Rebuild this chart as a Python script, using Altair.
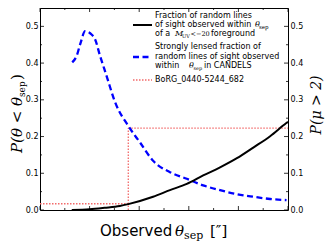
import altair as alt
import pandas as pd

# ---- data ----
blue_x = [0.65, 0.74, 0.82, 0.91, 1.04, 1.11, 1.21, 1.34, 1.51, 1.81, 2.02, 2.28, 2.62, 2.96, 3.29, 3.63, 3.97, 4.30, 4.64, 4.97]
blue_y = [0.402, 0.42, 0.456, 0.487, 0.478, 0.465, 0.42, 0.366, 0.295, 0.223, 0.183, 0.134, 0.103, 0.085, 0.067, 0.054, 0.043, 0.036, 0.030, 0.027]

black_x = [0.64, 1.0, 1.3, 1.61, 1.78, 2.28, 2.62, 2.96, 3.29, 3.63, 3.97, 4.30, 4.64, 4.96, 5.0]
black_y = [0.0, 0.002, 0.006, 0.011, 0.016, 0.036, 0.054, 0.071, 0.094, 0.116, 0.141, 0.170, 0.201, 0.236, 0.240]

theta_obj = 1.78
p_mu = 0.223
p_theta = 0.017

x_major = [0, 1, 2, 3, 4, 5]
x_minor = [0.5, 1.5, 2.5, 3.5, 4.5]
y_major = [0.0, 0.1, 0.2, 0.3, 0.4, 0.5]
y_minor = [0.05, 0.15, 0.25, 0.35, 0.45, 0.55]

W, H = 248, 202
SANS = "DejaVu Sans"
SERIF = "DejaVu Serif"

xs = alt.Scale(domain=[0, 5], nice=False, zero=False)
ys = alt.Scale(domain=[0, 0.55], nice=False)

blue_df = pd.DataFrame({"x": blue_x, "y": blue_y})
black_df = pd.DataFrame({"x": black_x, "y": black_y})
red_df = pd.DataFrame({
    "x": [0, theta_obj, theta_obj],
    "x2": [theta_obj, 5, theta_obj],
    "y": [p_theta, p_mu, 0],
    "y2": [p_theta, p_mu, p_mu],
})

x_axis = alt.Axis(values=x_major, format="d", ticks=False, domain=False, grid=False,
                  labelFont=SANS, labelFontSize=8, labelColor="black", labelPadding=3,
                  title=None, labelFlush=False)
y_axis_l = alt.Axis(values=y_major, format=".1f", ticks=False, domain=False, grid=False,
                    labelFont=SANS, labelFontSize=8, labelColor="black", labelPadding=2,
                    title=None, orient="left")
y_axis_r = alt.Axis(values=y_major, format=".1f", ticks=False, domain=False, grid=False,
                    labelFont=SANS, labelFontSize=8, labelColor="black", labelPadding=2,
                    title=None, orient="right")

red = alt.Chart(red_df).mark_rule(color="#f26a6a", strokeWidth=1.3, strokeDash=[1.5, 1.5]).encode(
    x=alt.X("x:Q", scale=xs, axis=x_axis), x2="x2:Q",
    y=alt.Y("y:Q", scale=ys, axis=y_axis_l), y2="y2:Q")

blue = alt.Chart(blue_df).mark_line(color="#0000ff", strokeWidth=2.3, strokeDash=[6, 3.5],
                                    interpolate="monotone").encode(
    x=alt.X("x:Q", scale=xs, axis=None), y=alt.Y("y:Q", scale=ys, axis=y_axis_r))

black = alt.Chart(black_df).mark_line(color="black", strokeWidth=2, interpolate="monotone").encode(
    x=alt.X("x:Q", scale=xs, axis=None), y=alt.Y("y:Q", scale=ys, axis=None))

# inward ticks
def xticks(vals, length):
    d = pd.DataFrame({"v": vals})
    b = alt.Chart(d).mark_rule(color="black", strokeWidth=0.8).encode(
        x=alt.X("v:Q", scale=xs, axis=None), y=alt.value(H), y2=alt.value(H - length))
    t = alt.Chart(d).mark_rule(color="black", strokeWidth=0.8).encode(
        x=alt.X("v:Q", scale=xs, axis=None), y=alt.value(0), y2=alt.value(length))
    return [b, t]

def yticks(vals, length):
    d = pd.DataFrame({"v": vals})
    l = alt.Chart(d).mark_rule(color="black", strokeWidth=0.8).encode(
        y=alt.Y("v:Q", scale=ys, axis=None), x=alt.value(0), x2=alt.value(length))
    r = alt.Chart(d).mark_rule(color="black", strokeWidth=0.8).encode(
        y=alt.Y("v:Q", scale=ys, axis=None), x=alt.value(W - length), x2=alt.value(W))
    return [l, r]

ticks = xticks(x_major, 4) + xticks(x_minor, 2) + yticks(y_major, 4) + yticks(y_minor, 2)

def txt(s, x, y, size, font=SANS, style="normal", align="left", baseline="alphabetic", angle=0):
    return alt.Chart(pd.DataFrame({"t": [s]})).mark_text(
        font=font, fontSize=size, fontStyle=style, align=align, baseline=baseline,
        angle=angle, color="black").encode(text="t:N", x=alt.value(x), y=alt.value(y))

titles = [
    txt("Observed", 60, 228, 15),
    txt("θ", 135, 228, 15, SERIF, "italic"),
    txt("sep", 144, 231, 11, SERIF),
    txt("[″]", 170, 228, 15, SERIF),
    # left title, rotated, read bottom to top
    txt("P(θ < θ", -18, 145, 15, SERIF, "italic", "left", "alphabetic", 270),
    txt("sep", -15, 89, 9, SERIF, "normal", "left", "alphabetic", 270),
    txt(")", -18, 72, 15, SERIF, "normal", "left", "alphabetic", 270),
    # right title
    txt("P(μ > 2)", 277, 97, 14, SERIF, "italic", "center", "middle", 270),
]

# legend
LX = 115
leg = [
    alt.Chart(pd.DataFrame({"a": [0]})).mark_rule(color="black", strokeWidth=2).encode(
        x=alt.value(93), x2=alt.value(112), y=alt.value(17)),
    alt.Chart(pd.DataFrame({"a": [0]})).mark_rule(color="#0000ff", strokeWidth=2.3, strokeDash=[6, 3.5]).encode(
        x=alt.value(93), x2=alt.value(112), y=alt.value(49)),
    alt.Chart(pd.DataFrame({"a": [0]})).mark_rule(color="#f26a6a", strokeWidth=1.3, strokeDash=[1.5, 1.5]).encode(
        x=alt.value(93), x2=alt.value(112), y=alt.value(72)),
    txt("Fraction of random lines", LX, 7.7, 8, baseline="middle"),
    txt("of sight observed within", LX, 17, 8, baseline="middle"),
    txt("θ", 215, 17, 8, SERIF, "italic", baseline="middle"),
    txt("sep", 219, 19, 5.5, SERIF, baseline="middle"),
    txt("of a", LX, 26.3, 8, baseline="middle"),
    txt("M", 135, 26.3, 8, SERIF, "italic", baseline="middle"),
    txt("UV", 142, 28.3, 5, SERIF, baseline="middle"),
    txt("<−20", 150.5, 26.3, 6.5, SERIF, baseline="middle"),
    txt("foreground", 171, 26.3, 8, baseline="middle"),
    txt("Strongly lensed fraction of", LX, 38.7, 8, baseline="middle"),
    txt("random lines of sight observed", LX, 48.7, 8, baseline="middle"),
    txt("within", LX, 58, 8, baseline="middle"),
    txt("θ", 149, 58, 8, SERIF, "italic", baseline="middle"),
    txt("sep", 153.5, 60, 5, SERIF, baseline="middle"),
    txt("in CANDELS", 164, 58, 8, baseline="middle"),
    txt("BoRG_0440-5244_682", LX, 72, 8, baseline="middle"),
]

chart = alt.layer(red, blue, black, *ticks, *titles, *leg).resolve_axis(y="independent").properties(
    width=W, height=H,
    autosize=alt.AutoSizeParams(type="none"),
    padding={"left": 32, "top": 0, "right": 37, "bottom": 31},
).configure_view(stroke="black", strokeWidth=1)

chart.save("out.html", embed_options={"renderer": "svg", "actions": False})
